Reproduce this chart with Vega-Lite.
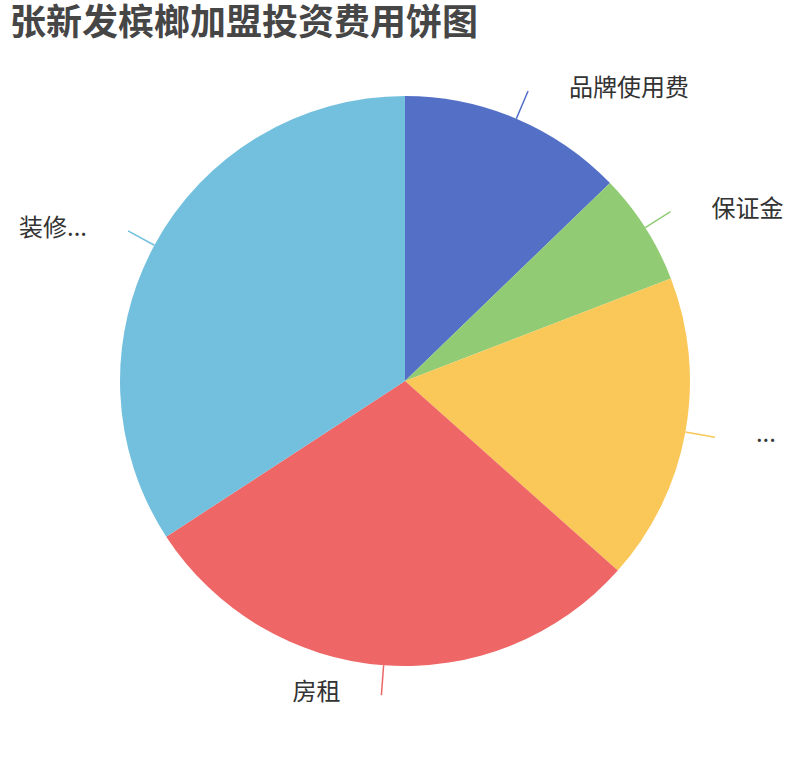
{
  "$schema": "https://vega.github.io/schema/vega-lite/v6.json",
  "width": 810,
  "height": 660,
  "padding": {"top": 6, "left": 0, "right": 0, "bottom": 50},
  "background": "white",
  "title": {
    "text": "张新发槟榔加盟投资费用饼图",
    "anchor": "start",
    "dx": 10,
    "offset": 8,
    "baseline": "top",
    "font": "Noto Sans CJK SC",
    "fontSize": 36,
    "fontWeight": "bold",
    "color": "#464646"
  },
  "data": {
    "values": [
      {"name": "品牌使用费", "value": 46.0, "idx": 1},
      {"name": "保证金", "value": 22.9, "idx": 2},
      {"name": "...", "value": 62.8, "idx": 3},
      {"name": "房租", "value": 105.2, "idx": 4},
      {"name": "装修...", "value": 123.1, "idx": 5}
    ]
  },
  "encoding": {
    "theta": {"field": "value", "type": "quantitative", "stack": true},
    "order": {"field": "idx", "type": "quantitative"},
    "color": {
      "field": "name",
      "type": "nominal",
      "scale": {
        "domain": ["品牌使用费", "保证金", "...", "房租", "装修..."],
        "range": ["#5470c6", "#91cc75", "#fac858", "#ee6666", "#73c0de"]
      },
      "legend": null
    }
  },
  "layer": [
    {
      "mark": {"type": "arc", "outerRadius": 285}
    },
    {
      "mark": {"type": "arc", "innerRadius": 285, "outerRadius": 315, "padAngle": 3, "filled": false, "strokeWidth": 1.5}
    },
    {
      "mark": {"type": "text", "radius": 315, "align": "left", "baseline": "middle", "dx": 41, "dy": -2, "font": "Noto Sans CJK SC", "fontSize": 24},
      "encoding": {
        "text": {"condition": {"test": "datum.name === '装修...' || datum.name === '房租'", "value": ""}, "field": "name"},
        "color": {"value": "#333333"}
      }
    },
    {
      "mark": {"type": "text", "radius": 315, "align": "right", "baseline": "middle", "dx": -41, "dy": -2, "font": "Noto Sans CJK SC", "fontSize": 24},
      "encoding": {
        "text": {"condition": {"test": "datum.name !== '装修...' && datum.name !== '房租'", "value": ""}, "field": "name"},
        "color": {"value": "#333333"}
      }
    }
  ]
}
